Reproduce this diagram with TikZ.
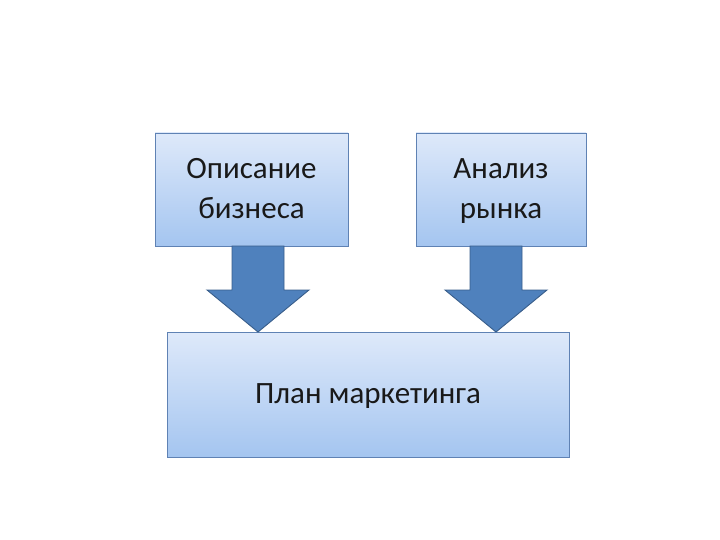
\documentclass[tikz,border=0pt]{standalone}
\usepackage{fontspec}
\setmainfont{Carlito}
\usepackage{tikz}
\usetikzlibrary{positioning}
\definecolor{boxtop}{RGB}{222,233,250}
\definecolor{boxbot}{RGB}{164,197,240}
\definecolor{boxline}{RGB}{95,130,180}
\definecolor{arrfill}{RGB}{79,129,189}
\definecolor{arrline}{RGB}{56,93,138}
\newcommand{\linestrut}{\rule[-5pt]{0pt}{28pt}}

\begin{document}
\begin{tikzpicture}[x=1pt, y=-1pt,
    block/.style={draw=boxline, line width=0.8pt, top color=boxtop, bottom color=boxbot,
      align=center, font=\fontsize{31}{40}\selectfont, inner sep=0pt, text=black!90},
    blockarrow/.style={fill=arrfill, draw=arrline, line width=0.9pt, line join=miter}]
            \useasboundingbox (0,0) rectangle (720,540);
            \node[block, minimum width=193pt, minimum height=113pt] (opis) at (251.5,189.5) {\linestrut Описание\\\linestrut бизнеса};
            \node[block, minimum width=170pt, minimum height=113pt] (analiz) at (501,189.5) {\linestrut Анализ\\\linestrut рынка};
            \node[block, minimum width=402pt, minimum height=125pt] (plan) at (368,394.5) {\linestrut План маркетинга};
            \foreach \c in {258,496} {
              \draw[blockarrow] (\c-26,246) -- (\c+26,246) -- (\c+26,290) -- (\c+51,290)
                -- (\c,332) -- (\c-51,290) -- (\c-26,290) -- cycle;
            }
          \end{tikzpicture}
\end{document}
